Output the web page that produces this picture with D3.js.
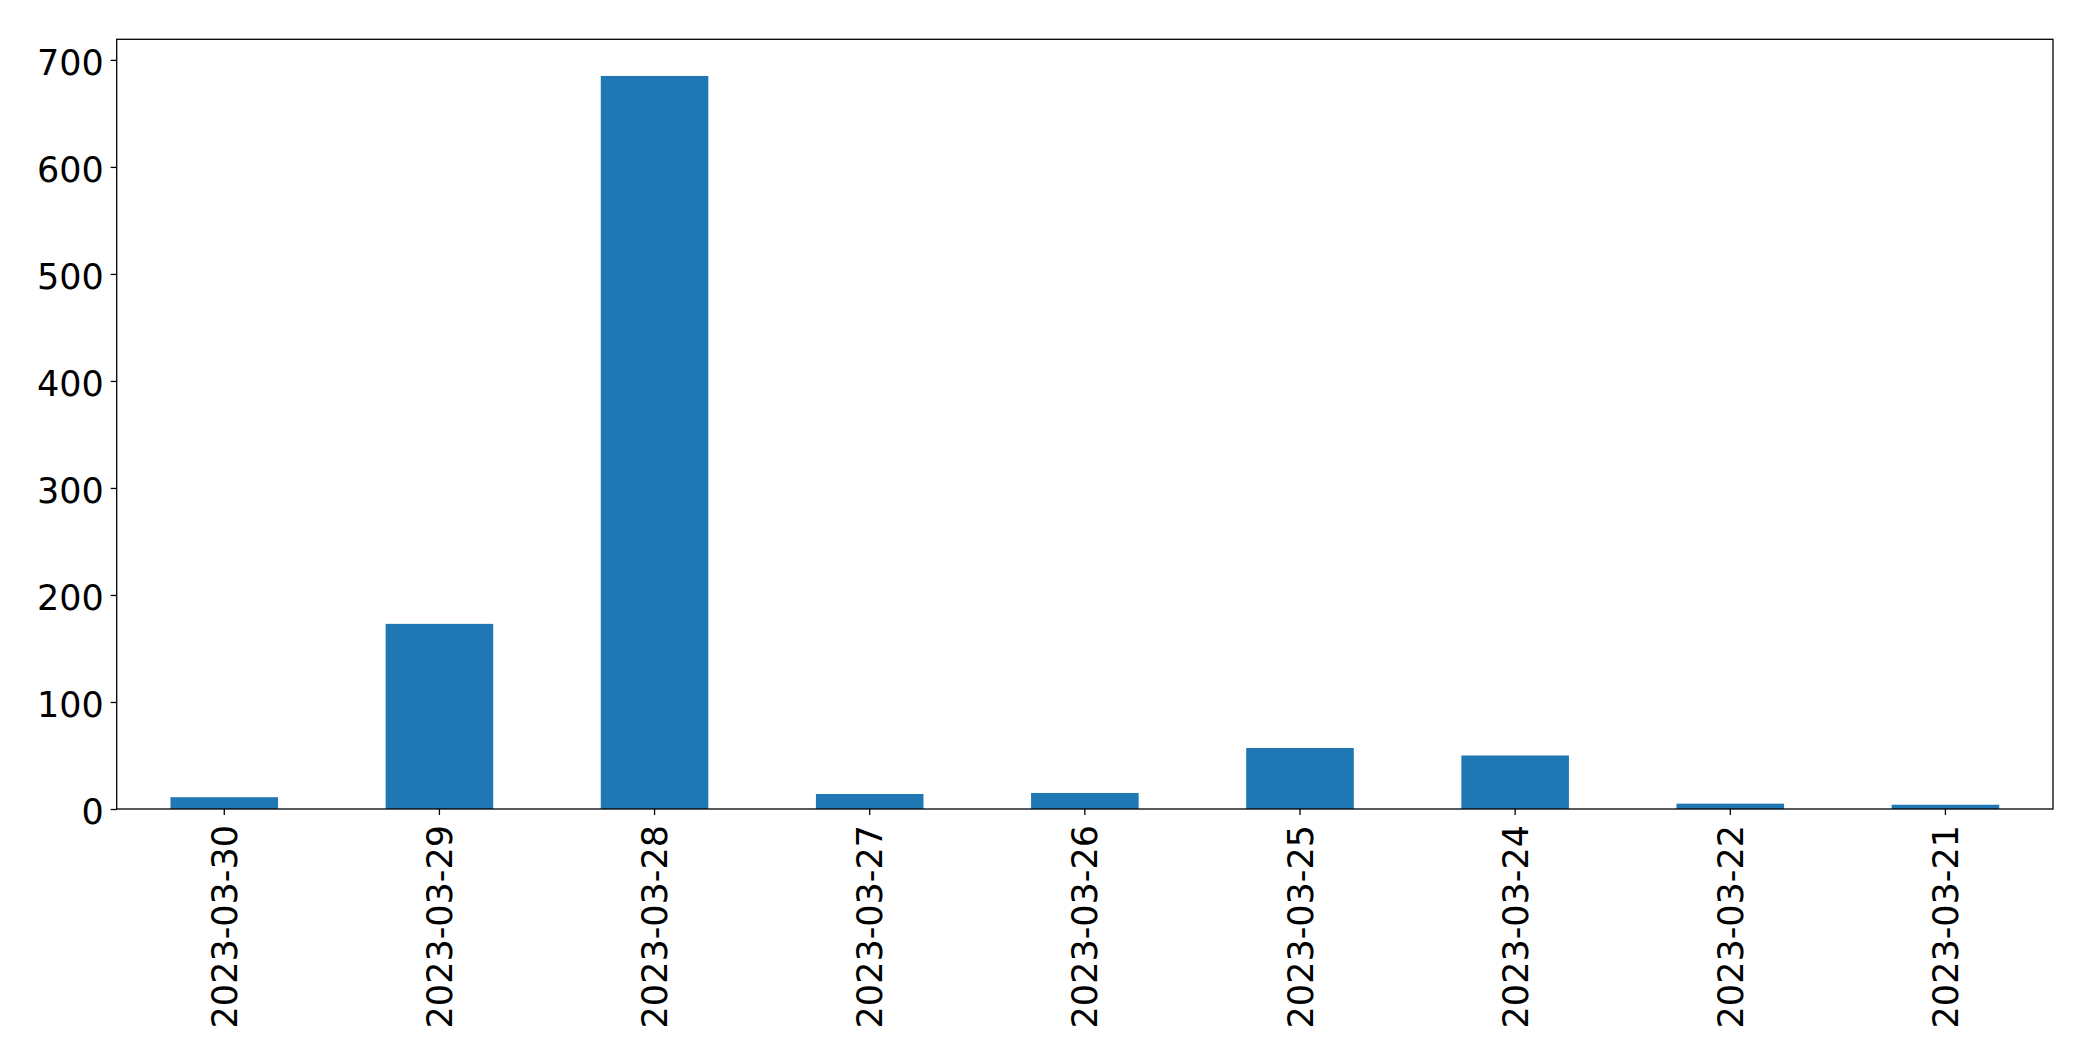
<!DOCTYPE html>
<html>
<head>
<meta charset="utf-8">
<script src="https://cdn.jsdelivr.net/npm/d3@7"></script>
<style>
  html, body { margin: 0; padding: 0; background: #fff; }
  svg { display: block; }
  text { font-family: "DejaVu Sans", sans-serif; fill: #000; }
</style>
</head>
<body>
<svg id="chart" width="2093" height="1061"></svg>
<script>
const categories = ["2023-03-30", "2023-03-29", "2023-03-28", "2023-03-27", "2023-03-26", "2023-03-25", "2023-03-24", "2023-03-22", "2023-03-21"];
const values = [11, 173, 685, 14, 15, 57, 50, 5, 4];
const yTicks = [0, 100, 200, 300, 400, 500, 600, 700];

const W = 2093, H = 1061;
const margin = { left: 116.7, right: W - 2053, top: 39.3, bottom: H - 809 };
const svg = d3.select("#chart");
const iw = W - margin.left - margin.right;
const ih = H - margin.top - margin.bottom;
const g = svg.append("g").attr("transform", `translate(${margin.left},${margin.top})`);

const x = d3.scaleBand().domain(categories).range([0, iw]).paddingInner(0.5).paddingOuter(0.25);
const y = d3.scaleLinear().domain([0, d3.max(values) * 1.05]).range([ih, 0]);

g.selectAll("rect.bar").data(values).join("rect")
  .attr("class", "bar")
  .attr("x", (d, i) => x(categories[i]))
  .attr("width", x.bandwidth())
  .attr("y", d => y(d))
  .attr("height", d => y(0) - y(d))
  .attr("fill", "#1f77b4");

const fs = 35;
const yAxis = g.append("g").call(d3.axisLeft(y).tickValues(yTicks).tickSize(6).tickPadding(7).tickFormat(d3.format("d")));
yAxis.select(".domain").remove();
yAxis.selectAll("line").attr("stroke", "#000").attr("stroke-width", 1.3);
yAxis.selectAll("text").style("font-size", fs + "px").attr("font-family", "DejaVu Sans").attr("dy", "0.41em");

const xAxis = g.append("g").attr("transform", `translate(0,${ih})`)
  .call(d3.axisBottom(x).tickSize(6).tickPadding(8));
xAxis.select(".domain").remove();
xAxis.selectAll("line").attr("stroke", "#000").attr("stroke-width", 1.3);
xAxis.selectAll("text")
  .style("font-size", fs + "px")
  .attr("font-family", "DejaVu Sans")
  .attr("text-anchor", "end")
  .attr("transform", "rotate(-90)")
  .attr("x", -16)
  .attr("y", 0)
  .attr("dy", "0.36em");

g.append("rect").attr("x", 0).attr("y", 0).attr("width", iw).attr("height", ih)
  .attr("fill", "none").attr("stroke", "#000").attr("stroke-width", 1.3);
</script>
</body>
</html>
